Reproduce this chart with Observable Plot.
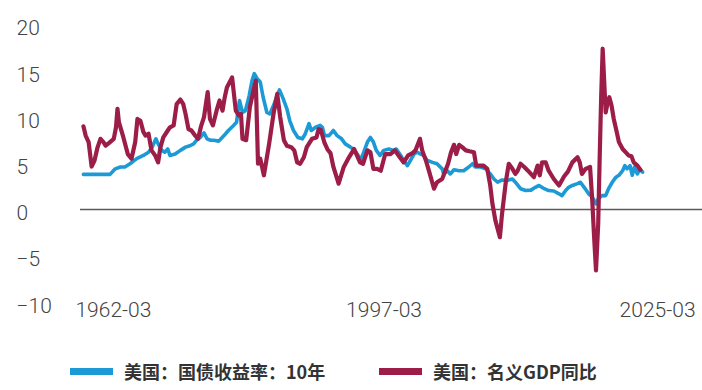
<!DOCTYPE html>
<html>
<head>
<meta charset="utf-8">
<script src="https://cdn.jsdelivr.net/npm/d3@7"></script>
<script src="https://cdn.jsdelivr.net/npm/@observablehq/plot@0.6"></script>
<style>
  html, body { margin: 0; padding: 0; background: #fff; }
  #wrap { position: relative; width: 702px; height: 390px; overflow: hidden; }
  #chart svg text { font-weight: 300; }
  .legend { position: absolute; top: 340px; left: 0; width: 702px; height: 50px; }
  .sw { position: absolute; top: 27.5px; width: 43px; height: 7px; }
  .lt { position: absolute; top: 17px; height: 28px; line-height: 28px; font-family: "Noto Sans CJK SC", "Liberation Sans", sans-serif; font-weight: 700; font-size: 18px; color: #333; white-space: nowrap; }
</style>
</head>
<body>
<div id="wrap">
  <div id="chart"></div>
  <div class="legend" id="legend"></div>
</div>
<script>
// ---- data ----
const seriesNames = ["美国：国债收益率：10年", "美国：名义GDP同比"];
const seriesColors = ["#1b9ad6", "#9c1e48"];

const treasuryDates = ["1962-03","1965-03","1965-10","1966-05","1966-11","1967-06","1968-03","1968-12","1969-07","1969-12",
  "1970-05","1970-08","1971-01","1971-05","1971-09","1971-12","1972-07","1973-02","1973-09","1974-03",
  "1974-08","1974-12","1975-05","1975-10","1976-02","1976-07","1976-11","1977-06","1978-01","1978-07",
  "1979-02","1979-06","1979-10","1980-02","1980-06","1980-11","1981-03","1981-06","1981-10","1982-02",
  "1982-06","1982-11","1983-03","1983-08","1983-12","1984-04","1984-09","1985-02","1985-06","1985-11",
  "1986-05","1986-11","1987-03","1987-08","1987-11","1988-05","1988-11","1989-02","1989-05","1989-11",
  "1990-05","1990-10","1991-04","1991-09","1992-04","1992-09","1993-01","1993-06","1993-10","1994-03",
  "1994-07","1994-11","1995-03","1995-08","1996-01","1996-08","1997-02","1997-06","1997-12","1998-04",
  "1998-09","1999-01","1999-06","1999-10","2000-03","2000-07","2000-12","2001-07","2002-01","2002-08",
  "2002-10","2003-03","2003-07","2003-12","2004-07","2005-01","2005-08","2006-01","2006-05","2006-12",
  "2007-07","2008-01","2008-06","2008-11","2009-05","2009-12","2010-07","2010-11","2011-06","2012-01",
  "2012-08","2013-02","2013-07","2014-02","2014-08","2015-03","2015-10","2016-02","2016-07","2016-11",
  "2017-04","2017-11","2018-03","2018-08","2019-02","2019-07","2019-12","2020-03","2020-08","2021-01",
  "2021-05","2021-10","2022-03","2022-07","2022-12","2023-03","2023-06","2023-10","2024-01","2024-04",
  "2024-08","2024-11","2025-03"];
const treasury10y = [3.8,3.8,4.4,4.6,4.6,4.95,5.5,5.85,6.2,6.75,
  7.65,7.1,6.4,6.2,6.55,5.85,6.0,6.4,6.75,6.9,
  7.1,7.5,7.8,8.3,7.65,7.5,7.5,7.4,8.0,8.55,
  9.1,9.45,11.8,10.5,10.7,12.3,13.95,14.7,14.15,13.8,
  12.15,10.5,10.35,11.25,12.15,12.95,12.0,10.9,9.6,8.55,
  7.8,7.65,8.2,9.3,8.55,8.9,9.1,8.9,8.0,8.0,
  8.55,8.0,7.65,7.1,6.75,6.45,6.0,5.4,6.2,7.3,
  7.8,7.3,6.4,5.85,6.4,6.55,6.4,6.55,5.85,5.3,
  4.75,5.3,6.0,6.2,6.0,5.85,5.3,5.1,4.95,4.4,
  3.85,4.2,3.85,4.3,4.2,4.2,4.6,4.95,4.6,4.6,
  4.4,3.85,3.3,2.95,3.2,3.15,3.3,2.95,2.25,2.05,
  2.1,2.4,2.6,2.25,2.05,2.0,1.7,1.5,2.05,2.4,
  2.6,2.8,2.95,2.4,1.7,1.35,0.6,1.15,1.5,1.5,
  2.25,2.95,3.5,3.7,4.2,4.75,4.4,4.75,3.7,4.6,
  3.85,4.4,4.05];

const gdpDates = ["1962-03","1962-06","1962-10","1963-02","1963-06","1963-10","1964-02","1964-06","1964-09","1965-03",
  "1965-08","1965-11","1966-01","1966-03","1966-09","1967-03","1967-08","1968-01","1968-04","1968-08",
  "1968-12","1969-03","1969-07","1969-11","1970-04","1970-08","1970-11","1971-03","1971-09","1971-12",
  "1972-05","1972-09","1973-02","1973-06","1973-09","1974-01","1974-05","1974-10","1975-02","1975-06",
  "1975-10","1976-03","1976-06","1976-10","1977-03","1977-07","1977-11","1978-02","1978-05","1978-12",
  "1979-05","1979-09","1979-12","1980-02","1980-07","1980-12","1981-05","1981-08","1981-11","1982-02",
  "1982-07","1983-02","1983-08","1984-01","1984-05","1984-10","1985-02","1985-08","1985-12","1986-04",
  "1986-08","1987-01","1987-05","1987-12","1988-06","1988-09","1988-12","1989-05","1989-09","1990-01",
  "1990-05","1990-12","1991-07","1992-02","1992-09","1992-12","1993-05","1993-09","1994-03","1994-07",
  "1994-11","1995-04","1995-09","1996-03","1996-10","1997-04","1997-09","1998-04","1998-10","1999-04",
  "1999-08","2000-02","2000-05","2000-10","2001-02","2001-09","2002-01","2002-08","2002-10","2003-04",
  "2003-08","2003-12","2004-03","2004-07","2004-11","2005-04","2005-09","2006-03","2006-06","2006-11",
  "2007-04","2007-09","2008-01","2008-04","2008-08","2009-02","2009-05","2009-10","2010-02","2010-07",
  "2010-11","2011-02","2011-06","2011-11","2012-04","2012-08","2012-12","2013-05","2013-08","2013-11",
  "2014-04","2014-08","2015-03","2015-10","2016-05","2016-10","2017-04","2017-11","2018-02","2018-05",
  "2018-10","2019-04","2019-07","2019-09","2019-12","2020-03","2020-05","2020-07","2020-09","2020-11",
  "2021-01","2021-03","2021-06","2021-09","2021-12","2022-04","2022-07","2022-12","2023-04","2023-08",
  "2023-12","2024-03","2024-08","2024-12"];
const gdpYoY = [9.0,8.0,7.3,4.65,5.3,6.7,7.65,7.3,6.9,7.3,
  7.65,8.9,10.9,9.45,7.8,6.0,5.5,7.3,9.8,9.6,
  8.4,8.0,8.2,6.4,5.85,5.1,6.7,7.8,8.55,8.9,
  9.1,11.4,11.9,11.4,10.35,8.7,8.55,8.0,7.65,9.0,
  10.0,12.7,9.8,9.1,10.7,11.8,10.7,12.15,13.2,14.3,
  10.7,10.2,10.35,7.65,7.5,11.1,12.9,13.95,4.95,5.5,
  3.7,7.1,10.35,12.5,10.0,7.5,6.9,6.75,6.4,5.1,
  4.95,5.65,6.75,7.65,7.8,8.7,8.6,7.2,6.5,6.1,
  4.6,2.8,4.6,5.65,6.55,6.0,5.1,4.95,6.4,6.2,
  4.4,4.4,4.2,6.0,6.0,6.4,5.85,5.1,5.85,6.1,
  6.4,7.65,6.4,5.3,4.2,2.25,2.95,3.3,3.7,4.95,
  6.2,7.0,6.0,7.0,6.75,6.4,6.3,6.2,4.75,4.75,
  4.75,4.4,2.6,0.6,-1.2,-3.0,-0.45,2.95,4.95,4.4,
  3.85,4.2,4.95,4.6,4.2,3.85,3.5,4.75,3.7,5.1,
  5.1,4.2,3.3,2.6,3.6,4.1,5.1,5.65,5.1,3.85,
  4.4,4.6,0.97,-2.3,-6.6,-1.55,5.65,12.15,17.4,13.95,
  10.5,11.25,12.15,11.25,9.8,8.4,7.3,6.55,6.2,5.85,
  5.75,5.1,4.75,4.3];

const yTicks = [-10, -5, 0, 5, 10, 15, 20];
const xTickLabels = ["1962-03", "1997-03", "2025-03"];
const xDomainLabels = ["1961-11", "2031-12"];

// ---- build tables ----
const parse = d3.utcParse("%Y-%m");
const fmt = d3.utcFormat("%Y-%m");
const treasury = treasuryDates.map((d, i) => ({date: parse(d), value: treasury10y[i]}));
const gdp = gdpDates.map((d, i) => ({date: parse(d), value: gdpYoY[i]}));

const axisText = {tickSize: 0, tickPadding: 0, tickFormat: fmt, fontSize: 21, anchor: "bottom"};
const xOffsets = [30, -10, 15];

const chart = Plot.plot({
  width: 702,
  height: 340,
  marginLeft: 80,
  marginRight: 0,
  marginTop: 24.2,
  marginBottom: 38.6,
  style: {fontFamily: "Roboto, 'Liberation Sans', sans-serif", fontSize: "21px", color: "#444", background: "#fff"},
  x: {type: "utc", domain: xDomainLabels.map(parse)},
  y: {domain: [-10, 20]},
  marks: [
    Plot.axisY(yTicks, {tickSize: 0, tickPadding: 0, textAnchor: "start", dx: -64, dy: 4, fontSize: 21, label: null}),
    ...xTickLabels.map((t, i) => Plot.axisX([parse(t)], {...axisText, dx: xOffsets[i], label: null})),
    Plot.ruleY([0], {stroke: "#5a5a5a", strokeWidth: 1.3}),
    Plot.lineY(treasury, {x: "date", y: "value", stroke: seriesColors[0], strokeWidth: 3.6, strokeLinejoin: "round"}),
    Plot.lineY(gdp, {x: "date", y: "value", stroke: seriesColors[1], strokeWidth: 4.2, strokeLinejoin: "round"})
  ]
});
document.getElementById("chart").appendChild(chart);

// ---- legend ----
const legend = document.getElementById("legend");
const legendLeft = [70, 379];
seriesNames.forEach((name, i) => {
  const sw = document.createElement("div");
  sw.className = "sw";
  sw.style.left = legendLeft[i] + "px";
  sw.style.background = seriesColors[i];
  legend.appendChild(sw);
  const t = document.createElement("div");
  t.className = "lt";
  t.style.left = (legendLeft[i] + 54) + "px";
  t.textContent = name;
  legend.appendChild(t);
});
</script>
</body>
</html>
